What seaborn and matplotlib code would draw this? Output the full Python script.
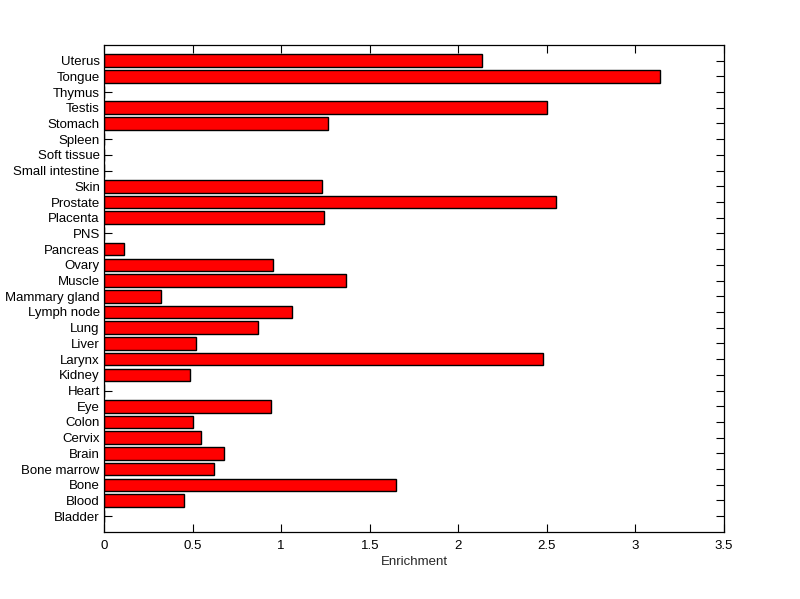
"""Tissue enrichment bar chart (MATLAB-style barh)."""
import matplotlib
matplotlib.use("Agg")
import matplotlib.pyplot as plt
import seaborn as sns

tissues = [
    "Uterus", "Tongue", "Thymus", "Testis", "Stomach", "Spleen", "Soft tissue",
    "Small intestine", "Skin", "Prostate", "Placenta", "PNS", "Pancreas", "Ovary",
    "Muscle", "Mammary gland", "Lymph node", "Lung", "Liver", "Larynx", "Kidney",
    "Heart", "Eye", "Colon", "Cervix", "Brain", "Bone marrow", "Bone", "Blood",
    "Bladder",
]
enrichment = [
    2.132, 3.141, 0.0, 2.499, 1.262, 0.0, 0.0,
    0.0, 1.232, 2.554, 1.243, 0.0, 0.115, 0.953,
    1.364, 0.324, 1.064, 0.867, 0.522, 2.477, 0.488,
    0.0, 0.940, 0.505, 0.550, 0.678, 0.623, 1.650, 0.454,
    0.0,
]
xticks = [0, 0.5, 1, 1.5, 2, 2.5, 3, 3.5]
xtick_labels = ["0", "0.5", "1", "1.5", "2", "2.5", "3", "3.5"]

sns.set_style("ticks")
plt.rcParams["font.family"] = ["Liberation Sans", "DejaVu Sans"]
plt.rcParams["font.size"] = 9.5

fig = plt.figure(figsize=(8, 5.99), dpi=100)
ax = fig.add_axes([0.13, 0.112, 0.775, 0.813])

sns.barplot(
    x=enrichment,
    y=tissues,
    orient="h",
    color="#ff0000",
    saturation=1,
    width=0.8,
    edgecolor="black",
    linewidth=1,
    ax=ax,
)
ax.set_axisbelow(True)

ax.set_xlim(0, 3.5)
ax.set_ylim(30, -1)
ax.set_xticks(xticks)
ax.set_xticklabels(xtick_labels)
ax.set_xlabel("Enrichment", labelpad=3)
ax.set_ylabel("")

for side in ["top", "right", "left", "bottom"]:
    ax.spines[side].set_visible(True)
    ax.spines[side].set_linewidth(0.9)
    ax.spines[side].set_color("black")
ax.tick_params(axis="both", direction="in", length=6, width=0.8, color="black",
               top=True, right=True, labelcolor="black")
ax.tick_params(axis="y", pad=3)
ax.tick_params(axis="x", pad=6)

fig.savefig("out.png", dpi=100, facecolor="white")
